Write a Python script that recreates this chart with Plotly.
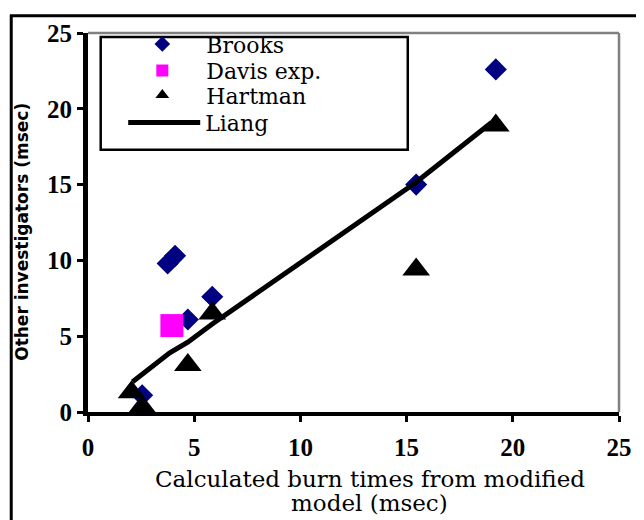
import plotly.graph_objects as go

# Data
brooks_x = [19.2, 15.45, 3.75, 4.1, 5.85, 4.7, 2.55]
brooks_y = [22.6, 15.0, 9.8, 10.3, 7.6, 6.1, 1.1]

davis_x = [3.95]
davis_y = [5.7]

hartman_x = [19.2, 15.45, 5.85, 4.7, 2.05, 2.55]
hartman_y = [18.9, 9.4, 6.5, 3.1, 1.3, 0.35]

liang_x = [2.1, 3.85, 4.7, 5.85, 15.4, 19.0]
liang_y = [2.0, 3.9, 4.6, 5.8, 15.1, 19.1]

tick_vals = [0, 5, 10, 15, 20, 25]
tick_text = ["0", "5", "10", "15", "20", "25"]

x_title_lines = ["Calculated burn times from modified", "model (msec)"]
y_title = "Other investigators (msec)"

# page offset (browser body margin) handled by sizing figure 8px smaller
W, H = 636, 512
PL, PT, PW, PH = 88, 26, 543, 386   # plot area in page pixels


def px(xp):
    return (xp - PL) / PW


def py(yp):
    return (PT + PH - yp) / PH


fig = go.Figure()
fig.add_trace(go.Scatter(x=brooks_x, y=brooks_y, mode="markers", name="Brooks",
                         legend="legend",
                         marker=dict(symbol="diamond", size=17, color="#000080",
                                     line=dict(width=0))))
fig.add_trace(go.Scatter(x=davis_x, y=davis_y, mode="markers", name="Davis exp.",
                         legend="legend2",
                         marker=dict(symbol="square", size=23, color="#FF00FF",
                                     line=dict(width=0))))
fig.add_trace(go.Scatter(x=hartman_x, y=hartman_y, mode="markers", name="Hartman",
                         legend="legend3",
                         marker=dict(symbol="triangle-up", size=24, color="black",
                                     line=dict(width=0))))
fig.add_trace(go.Scatter(x=liang_x, y=liang_y, mode="lines", name="Liang",
                         legend="legend4",
                         line=dict(color="black", width=5)))

tickfont = dict(family="Liberation Serif", size=25, color="black", weight="bold")
legfont = dict(family="DejaVu Serif", size=22, color="black")


def leg(xl, yc, w):
    return dict(x=px(xl), y=py(yc - 27), xanchor="left", yanchor="top",
                bgcolor="rgba(0,0,0,0)", borderwidth=0, font=legfont,
                itemsizing="constant", itemwidth=w)


fig.update_layout(
    width=W, height=H,
    margin=dict(l=PL - 8, r=W - (PL - 8) - PW, t=PT - 8, b=H - (PT - 8) - PH),
    paper_bgcolor="white", plot_bgcolor="white",
    showlegend=True,
    legend=leg(119, 43, 78),
    legend2=leg(119, 70, 78),
    legend3=leg(119, 95, 78),
    legend4=leg(124, 123, 72),
    xaxis=dict(range=[0, 25], tickvals=tick_vals, ticktext=tick_text,
               showgrid=False, zeroline=False, showline=True, linecolor="black",
               linewidth=4, ticks="outside", ticklen=6, tickwidth=3, tickcolor="black",
               tickfont=tickfont, ticklabelstandoff=4),
    yaxis=dict(range=[0, 25], tickvals=tick_vals, ticktext=tick_text,
               showgrid=False, zeroline=False, showline=True, linecolor="black",
               linewidth=5, ticks="outside", ticklen=6, tickwidth=3, tickcolor="black",
               tickfont=tickfont, ticklabelstandoff=0),
    shapes=[
        # grey plot-area top/right border
        dict(type="line", xref="paper", yref="paper", x0=0, x1=1, y0=1, y1=1,
             line=dict(color="#808080", width=2.5)),
        dict(type="line", xref="paper", yref="paper", x0=1, x1=1, y0=0, y1=1,
             line=dict(color="#808080", width=2.5)),
        # legend box
        dict(type="rect", xref="paper", yref="paper",
             x0=px(101), x1=px(415), y0=py(145), y1=py(30),
             line=dict(color="black", width=2.5), fillcolor="white", layer="above"),
        # outer frame
        dict(type="rect", xref="paper", yref="paper",
             x0=px(9.5), x1=px(660), y0=py(540), y1=py(8.5),
             line=dict(color="black", width=3)),
    ],
    annotations=[
        dict(text=x_title_lines[0],
             xref="paper", yref="paper", x=px(376), y=py(480),
             xanchor="center", yanchor="middle", showarrow=False,
             font=dict(family="DejaVu Serif", size=23, color="black")),
        dict(text=x_title_lines[1],
             xref="paper", yref="paper", x=px(376), y=py(505),
             xanchor="center", yanchor="middle", showarrow=False,
             font=dict(family="DejaVu Serif", size=23, color="black")),
        dict(text="<b>" + y_title + "</b>", textangle=-90,
             xref="paper", yref="paper", x=px(21), y=py(228),
             xanchor="center", yanchor="middle", showarrow=False,
             font=dict(family="DejaVu Sans", size=17, color="black")),
    ],
)

fig.write_html("out.html")
